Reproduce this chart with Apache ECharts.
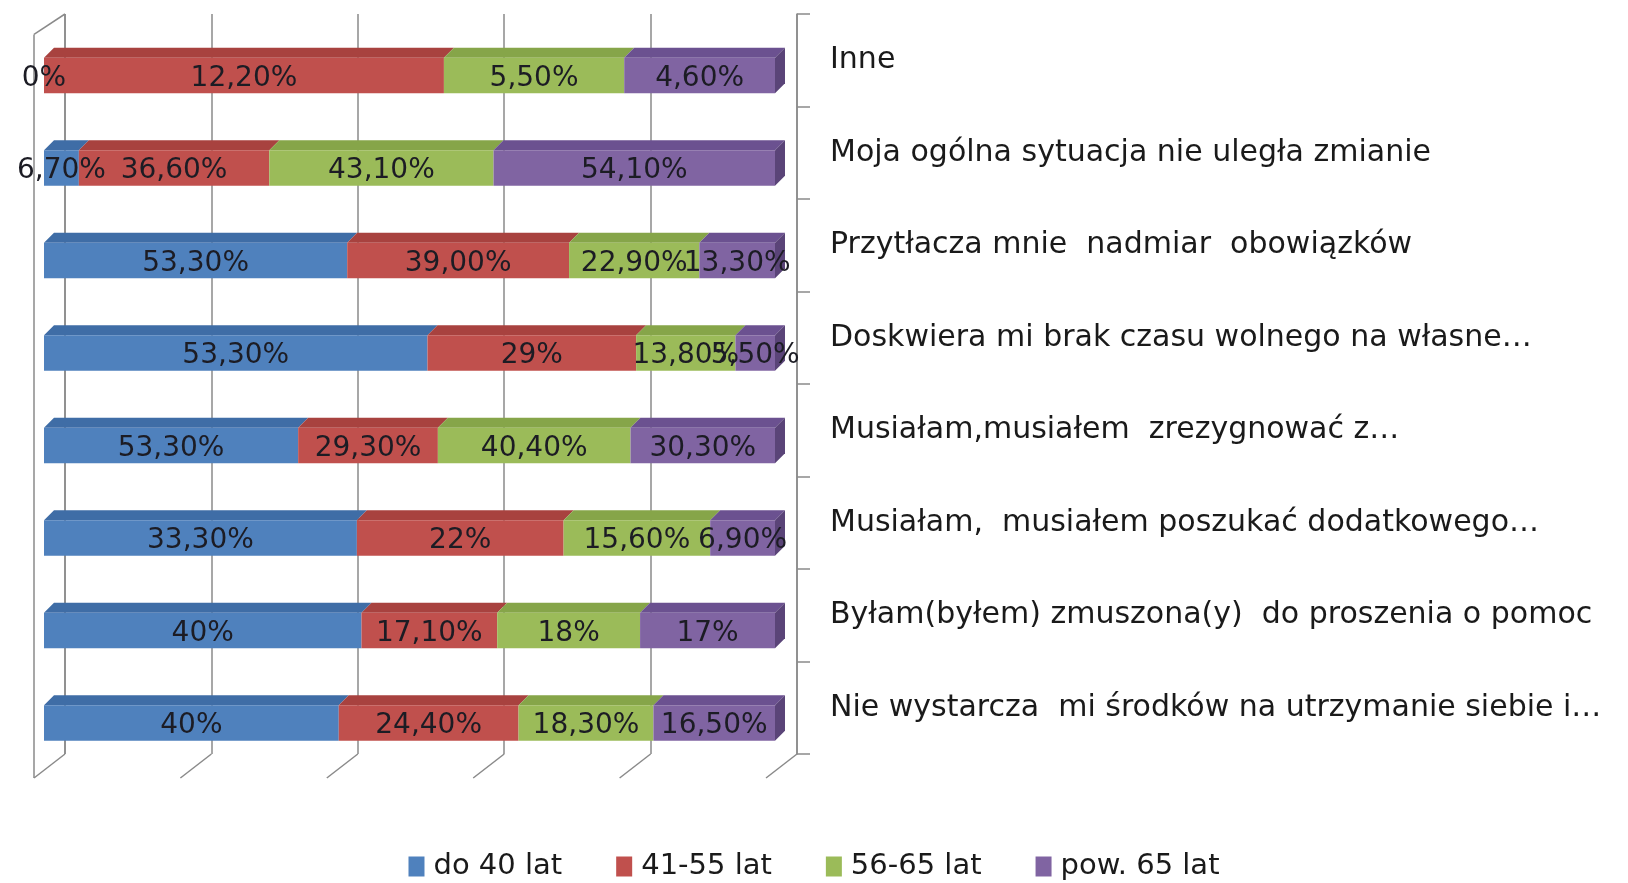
<!DOCTYPE html>
<html>
<head>
<meta charset="utf-8">
<script src="https://cdn.jsdelivr.net/npm/echarts@6/dist/echarts.min.js"></script>
<style>
html,body{margin:0;padding:0;background:#fff;}
#chart{width:1628px;height:883px;}
</style>
</head>
<body>
<div id="chart"></div>
<script>
// Categories listed bottom -> top (as on the category axis)
const categories = [
  'Nie wystarcza  mi środków na utrzymanie siebie i…',
  'Byłam(byłem) zmuszona(y)  do proszenia o pomoc',
  'Musiałam,  musiałem poszukać dodatkowego…',
  'Musiałam,musiałem  zrezygnować z…',
  'Doskwiera mi brak czasu wolnego na własne…',
  'Przytłacza mnie  nadmiar  obowiązków',
  'Moja ogólna sytuacja nie uległa zmianie',
  'Inne'
];
const seriesNames = ['do 40 lat', '41-55 lat', '56-65 lat', 'pow. 65 lat'];
const age40     = [40,   40,   33.3, 53.3, 53.3, 53.3, 6.7,  0];
const age41_55  = [24.4, 17.1, 22,   29.3, 29,   39,   36.6, 12.2];
const age56_65  = [18.3, 18,   15.6, 40.4, 13.8, 22.9, 43.1, 5.5];
const age65plus = [16.5, 17,   6.9,  30.3, 5.5,  13.3, 54.1, 4.6];
const tickValues = [0, 20, 40, 60, 80, 100];
// labels that were shown with two decimals although the value is whole
const twoDecimalLabels = [['41-55 lat', 5]];

const seriesValues = [age40, age41_55, age56_65, age65plus];
const frontColors = ['#4F81BD', '#C0504D', '#9BBB59', '#8064A2'];
const topColors   = ['#3F6DA6', '#A8423F', '#86A549', '#6B5190'];
const sideColor   = '#5A4478';
const lineColor   = '#8a8a8a';
const DX = 10, DY = 10;           // 3D depth of the bars
const FLOOR_DX = -31, FLOOR_DY = 24; // depth of the floor / side wall

function fmt(v, sName, ci) {
  const force = twoDecimalLabels.some(e => e[0] === sName && e[1] === ci);
  if (Number.isInteger(v) && !force) return v + '%';
  return v.toFixed(2).replace('.', ',') + '%';
}

// 100% stacking
const totals = categories.map((c, i) => seriesValues.reduce((a, s) => a + s[i], 0));
const stacks = [];
const cum = categories.map(() => 0);
seriesValues.forEach((vals, s) => {
  const arr = vals.map((v, i) => {
    const start = cum[i];
    const end = start + v / totals[i] * 100;
    cum[i] = end;
    return [start, end, i, v];
  });
  stacks.push(arr);
});

const labelData = [];
stacks.forEach((arr, s) => arr.forEach(d => labelData.push([(d[0] + d[1]) / 2, d[2], d[3], s])));

function barRender(sIdx) {
  return function (params, api) {
    const p0 = api.coord([api.value(0), api.value(2)]);
    const p1 = api.coord([api.value(1), api.value(2)]);
    const band = api.size([0, 1])[1];
    const h = band * 0.385;
    const top = p0[1] - h / 2, bottom = p0[1] + h / 2;
    const x0 = p0[0], x1 = p1[0];
    const children = [];
    if (x1 - x0 > 0.01) {
      children.push({type: 'polygon', shape: {points: [[x0, top], [x0 + DX, top - DY], [x1 + DX, top - DY], [x1, top]]},
        style: {fill: topColors[sIdx]}});
      children.push({type: 'rect', shape: {x: x0, y: top, width: x1 - x0, height: h},
        style: {fill: frontColors[sIdx]}});
      if (sIdx === seriesValues.length - 1) {
        children.push({type: 'polygon', shape: {points: [[x1, top], [x1 + DX, top - DY], [x1 + DX, bottom - DY], [x1, bottom]]},
          style: {fill: sideColor}});
      }
    }
    return {type: 'group', children: children};
  };
}

const series = [];
// floor lines and side wall on the back plane
series.push({
  type: 'custom', name: 'floor', xAxisIndex: 0, yAxisIndex: 0, silent: true, z: 1,
  data: tickValues.map(v => [v]),
  renderItem: function (params, api) {
    const cs = params.coordSys;
    const x = api.coord([api.value(0), 0])[0];
    const top = cs.y, bottom = cs.y + cs.height;
    const st = {stroke: lineColor, lineWidth: 1.5, fill: null};
    const ch = [{type: 'line', shape: {x1: x, y1: bottom, x2: x + FLOOR_DX, y2: bottom + FLOOR_DY}, style: st}];
    if (api.value(0) === tickValues[0]) {
      ch.push({type: 'line', shape: {x1: x, y1: top, x2: x, y2: bottom}, style: st});
      ch.push({type: 'line', shape: {x1: x + FLOOR_DX, y1: bottom + FLOOR_DY, x2: x + FLOOR_DX, y2: top + FLOOR_DY * 0.85}, style: st});
      ch.push({type: 'line', shape: {x1: x + FLOOR_DX, y1: top + FLOOR_DY * 0.85, x2: x, y2: top}, style: st});
    }
    return {type: 'group', children: ch};
  }
});
seriesNames.forEach((name, s) => {
  series.push({
    type: 'custom', name: name, xAxisIndex: 1, yAxisIndex: 1, z: 3,
    itemStyle: {color: frontColors[s]},
    data: stacks[s],
    renderItem: barRender(s)
  });
});
series.push({
  type: 'custom', name: 'labels', xAxisIndex: 1, yAxisIndex: 1, z: 5, silent: true,
  data: labelData,
  renderItem: function (params, api) {
    const p = api.coord([api.value(0), api.value(1)]);
    const s = api.value(3);
    return {type: 'text', x: p[0], y: p[1] + 3,
      style: {text: fmt(api.value(2), seriesNames[s], api.value(1)), align: 'center', verticalAlign: 'middle',
        fontFamily: 'DejaVu Sans', fontSize: 28, fill: '#1c1c24'}};
  }
});

const chart = echarts.init(document.getElementById('chart'), null, {renderer: 'canvas'});
chart.setOption({
  animation: false,
  backgroundColor: '#fff',
  color: frontColors,
  legend: {
    data: seriesNames,
    left: 'center', top: 847,
    icon: 'rect', itemWidth: 16, itemHeight: 20, itemGap: 54,
    textStyle: {fontFamily: 'DejaVu Sans', fontSize: 29, color: '#1a1a1a', padding: [0, 0, 0, 4]}
  },
  grid: [
    {left: 65, right: 831, top: 14, bottom: 129},
    {left: 44, right: 853, top: 29.25, bottom: 113.75}
  ],
  xAxis: [
    {gridIndex: 0, type: 'value', min: 0, max: 100, interval: 20,
      axisLine: {show: false}, axisTick: {show: false}, axisLabel: {show: false},
      splitLine: {show: true, lineStyle: {color: lineColor, width: 1.5}}},
    {gridIndex: 1, type: 'value', min: 0, max: 100, interval: 20, show: false,
      splitLine: {show: false}}
  ],
  yAxis: [
    {gridIndex: 0, type: 'category', data: categories, position: 'right',
      axisLine: {show: true, onZero: false, lineStyle: {color: lineColor, width: 1.5}},
      axisTick: {show: true, length: 13, lineStyle: {color: lineColor, width: 1.5}},
      axisLabel: {margin: 33, fontFamily: 'DejaVu Sans', fontSize: 30, color: '#1a1a1a'},
      splitLine: {show: false}},
    {gridIndex: 1, type: 'category', data: categories, show: false}
  ],
  series: series
});
</script>
</body>
</html>
